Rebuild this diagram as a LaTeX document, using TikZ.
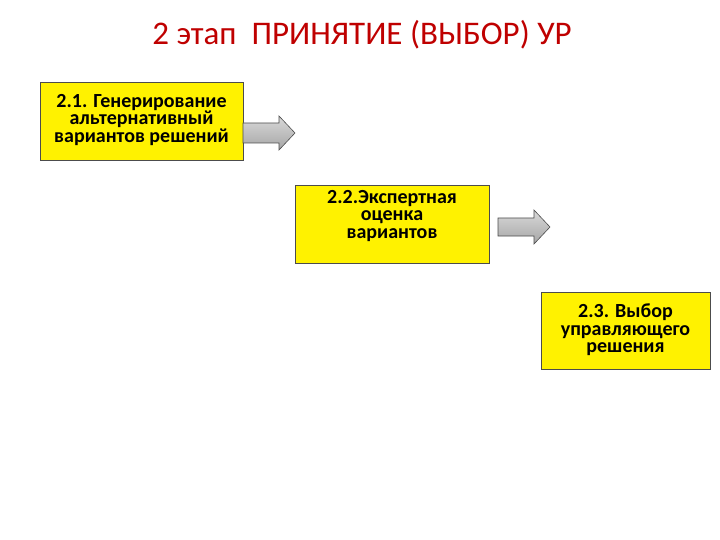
\documentclass[tikz,border=0pt]{standalone}
\usepackage{fontspec}
\setmainfont{Carlito}
\begin{document}
\begin{tikzpicture}[x=1pt,y=-1pt,
  stage/.style={draw=black!70,fill=yellow,line width=0.8pt},
  stagetext/.style={align=center,font=\bfseries\fontsize{20}{17.5}\selectfont,text=black,inner sep=0pt},
  barrow/.style={draw=black!70,line width=0.6pt,top color=white!85!black,bottom color=black!35}]
\useasboundingbox (0,0) rectangle (720,540);
\node[text=red!75!black,font=\fontsize{33}{36}\selectfont] (t) at (362,35) {2 этап \ ПРИНЯТИЕ (ВЫБОР) УР};
\node[stage,minimum width=203pt,minimum height=78pt] (b1) at (141.5,121) {};
\node[stagetext] (t1) at (141.5,120) {2.1. Генерирование\\альтернативный\\вариантов решений};
\node[stage,minimum width=194pt,minimum height=78pt] (b2) at (392,224) {};
\node[stagetext] (t2) at (392,216) {2.2.Экспертная\\оценка\\вариантов};
\node[stage,minimum width=169pt,minimum height=77pt] (b3) at (625.5,330.5) {};
\node[stagetext] (t3) at (625.5,330) {2.3. Выбор\\управляющего\\решения};
\coordinate (a1) at (243,133);
\coordinate (a2) at (498,227);
\draw[barrow] (a1) ++(0,-10) -- ++(36,0) -- ++(0,-7) -- ++(16,17) -- ++(-16,17) -- ++(0,-7) -- ++(-36,0) -- cycle;
\draw[barrow] (a2) ++(0,-9) -- ++(36,0) -- ++(0,-8) -- ++(16,17) -- ++(-16,17) -- ++(0,-8) -- ++(-36,0) -- cycle;
\end{tikzpicture}
\end{document}
